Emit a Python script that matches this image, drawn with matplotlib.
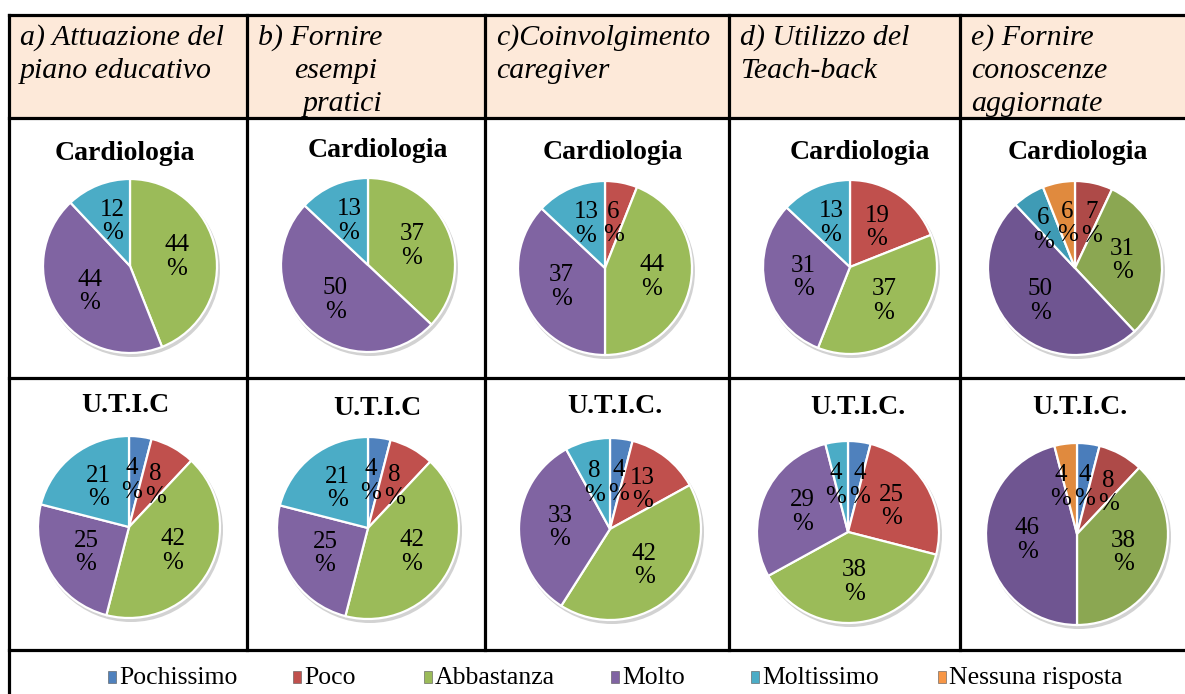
import numpy as np
import matplotlib.pyplot as plt
from matplotlib.patches import Rectangle, Circle

plt.rcParams['font.family'] = ['Liberation Serif', 'DejaVu Serif']

W, H = 1185, 694

# dati
categorie = ["Pochissimo", "Poco", "Abbastanza", "Molto", "Moltissimo", "Nessuna risposta"]
colori = ["#4f81bd", "#c0504d", "#9bbb59", "#8064a2", "#4bacc6", "#f79646"]
colori_e = ["#4a7dbb", "#ae4a48", "#8ba752", "#6f5591", "#3f9bb5", "#e08a3e"]

intestazioni = [
    ["a) Attuazione del", "piano educativo"],
    ["b) Fornire", "esempi", "pratici"],
    ["c)Coinvolgimento", "caregiver"],
    ["d) Utilizzo del", "Teach-back"],
    ["e) Fornire", "conoscenze", "aggiornate"],
]
titoli_cardio = ["Cardiologia"] * 5
titoli_utic = ["U.T.I.C", "U.T.I.C", "U.T.I.C.", "U.T.I.C.", "U.T.I.C."]

cardiologia = [
    [0, 0, 44, 44, 12, 0],
    [0, 0, 37, 50, 13, 0],
    [0, 6, 44, 37, 13, 0],
    [0, 19, 37, 31, 13, 0],
    [0, 7, 31, 50, 6, 6],
]
utic = [
    [4, 8, 42, 25, 21, 0],
    [4, 8, 42, 25, 21, 0],
    [4, 13, 42, 33, 8, 0],
    [4, 25, 38, 29, 4, 0],
    [4, 8, 38, 46, 0, 4],
]

# layout (pixel, origine in alto)
col_x = [9, 247, 485, 729, 960]
righe_y = [15, 118, 378, 650]
rientri = [[0, 0], [0, 36, 45], [0, 0], [0, 0], [0, 0, 0]]
centri_cardio = [(130, 266), (368, 265), (605, 268), (850, 267), (1075, 268)]
centri_utic = [(129, 527), (368, 528), (610, 529), (848, 532), (1077, 534)]
pos_tit_cardio = [(125, 153), (378, 150), (613, 152), (860, 152), (1078, 152)]
pos_tit_utic = [(125, 405), (377, 408), (615, 406), (858, 407), (1080, 407)]
leg_x = [112, 297, 428, 615, 755, 942]


def Y(y):
    return H - y


fig = plt.figure(figsize=(W / 100, H / 100), dpi=100)
ax = fig.add_axes([0, 0, 1, 1])


def torta(valori, cx, cy, r, pal):
    idx = [i for i, v in enumerate(valori) if v > 0]
    vals = [valori[i] for i in idx]
    cols = [pal[i] for i in idx]
    ax.add_patch(Circle((cx + 2, Y(cy) - 3), r + 1, color='#d2d2d2', zorder=1, lw=0))
    wedges, _ = ax.pie(vals, colors=cols, startangle=90, counterclock=False,
                       center=(cx, Y(cy)), radius=r, frame=True,
                       wedgeprops=dict(edgecolor='white', linewidth=1.6, zorder=2))
    pos = []
    for w, v in zip(wedges, vals):
        ang = np.deg2rad((w.theta1 + w.theta2) / 2)
        d = (0.55 if v >= 10 else 0.52) * r
        pos.append([cx + d * np.cos(ang), Y(cy) + d * np.sin(ang)])
    # allontana le etichette troppo vicine
    for _ in range(5):
        for a in range(len(pos)):
            for b in range(a + 1, len(pos)):
                dx = pos[b][0] - pos[a][0]
                dy = pos[b][1] - pos[a][1]
                if abs(dx) < 24 and abs(dy) < 30:
                    s = 1 if dx >= 0 else -1
                    sp = (24 - abs(dx)) / 2
                    pos[a][0] -= s * sp
                    pos[b][0] += s * sp
    for (x, y), v in zip(pos, vals):
        ax.text(x, y, f"{v}\n%", ha='center', va='center', fontsize=18,
                linespacing=1.1, zorder=3)


# intestazione
ax.add_patch(Rectangle((col_x[0], Y(righe_y[1])), W - col_x[0] + 5, righe_y[1] - righe_y[0],
                       facecolor='#fde9d9', edgecolor='none', zorder=0))
for j, righe in enumerate(intestazioni):
    for k, t in enumerate(righe):
        ax.text(col_x[j] + 11 + rientri[j][k], Y(45 + 33 * k), t, fontsize=21.5,
                style='italic', ha='left', va='baseline')

# torte
for j in range(5):
    pal = colori_e if j == 4 else colori
    torta(cardiologia[j], centri_cardio[j][0], centri_cardio[j][1], 87, pal)
    torta(utic[j], centri_utic[j][0], centri_utic[j][1], 91, pal)
    ax.text(pos_tit_cardio[j][0], Y(pos_tit_cardio[j][1]), titoli_cardio[j],
            fontsize=20, fontweight='bold', ha='center', va='center')
    ax.text(pos_tit_utic[j][0], Y(pos_tit_utic[j][1]), titoli_utic[j],
            fontsize=20, fontweight='bold', ha='center', va='center')

# griglia
lw = 2.3
for y in righe_y:
    ax.plot([col_x[0], W + 5], [Y(y), Y(y)], color='black', lw=lw, zorder=5)
for x in col_x[1:]:
    ax.plot([x, x], [Y(righe_y[0]), Y(righe_y[-1])], color='black', lw=lw, zorder=5)
ax.plot([col_x[0], col_x[0]], [Y(righe_y[0]), -5], color='black', lw=lw, zorder=5)

# legenda
for x, c, t in zip(leg_x, colori, categorie):
    ax.add_patch(Rectangle((x - 4, Y(677) - 6), 8, 12, facecolor=c, edgecolor='#555555',
                           lw=0.4, zorder=3))
    ax.text(x + 7, Y(678), t, fontsize=18.5, ha='left', va='center')

ax.set_xlim(0, W)
ax.set_ylim(0, H)
ax.set_aspect('auto')
ax.axis('off')
fig.savefig('out.png', dpi=100)
